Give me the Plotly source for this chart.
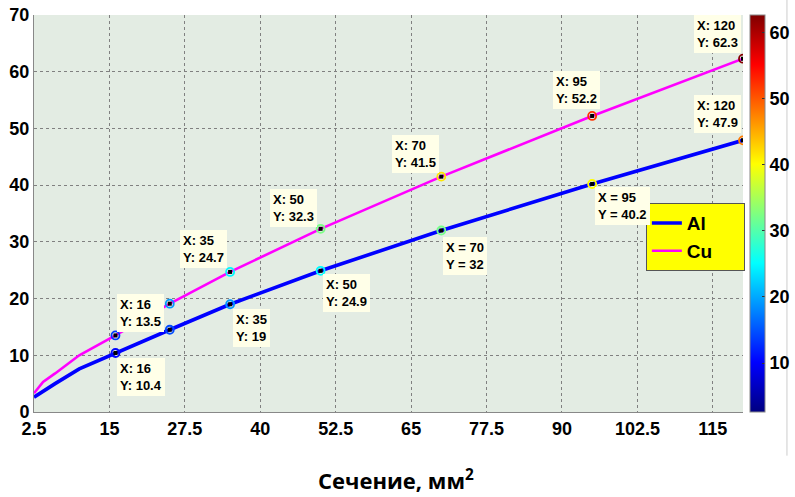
import plotly.graph_objects as go

# ---- data ----
sections = [2.5, 4, 6, 10, 16, 25, 35, 50, 70, 95, 120]
al_values = [2.6, 3.7, 5.0, 7.6, 10.4, 14.5, 19.0, 24.9, 32.0, 40.2, 47.9]
cu_values = [3.3, 5.3, 6.8, 10.0, 13.5, 19.1, 24.7, 32.3, 41.5, 52.2, 62.3]

tip_sections = [16, 25, 35, 50, 70, 95, 120]
x_ticks = [2.5, 15, 27.5, 40, 52.5, 65, 77.5, 90, 102.5, 115]
y_ticks = [0, 10, 20, 30, 40, 50, 60, 70]
cbar_ticks = [10, 20, 30, 40, 50, 60]

series_names = ["Al", "Cu"]
x_title = "Сечение, мм"

# labelled data tips: (series, section, separator)
tip_labels = [
    ("Cu", 16, ":"), ("Cu", 35, ":"), ("Cu", 50, ":"), ("Cu", 70, ":"),
    ("Cu", 95, ":"), ("Cu", 120, ":"),
    ("Al", 16, ":"), ("Al", 35, ":"), ("Al", 50, ":"), ("Al", 70, " ="),
    ("Al", 95, " ="), ("Al", 120, ":"),
]

# ---- style / placement of data-tip boxes (xanchor, yanchor, xshift, yshift) ----
tip_place = {
    ("Cu", 120): ("right", "bottom", -2, 6),
    ("Cu", 95): ("right", "bottom", 8, 7),
    ("Cu", 70): ("right", "bottom", -2, 4),
    ("Cu", 50): ("right", "bottom", -4, 2),
    ("Cu", 35): ("right", "bottom", -3, 4),
    ("Cu", 16): ("left", "bottom", 2, 3),
    ("Al", 120): ("right", "bottom", -2, 7),
    ("Al", 95): ("left", "top", 3, -3),
    ("Al", 70): ("left", "top", 2, -6),
    ("Al", 50): ("left", "top", 2, -3),
    ("Al", 35): ("left", "top", 3, -5),
    ("Al", 16): ("left", "top", 2, -5),
}

series = {"Al": al_values, "Cu": cu_values}
colors = {"Al": "#0000FF", "Cu": "#FF00FF"}
widths = {"Al": 3.6, "Cu": 2.6}

jet = [[0.0, "rgb(0,0,128)"], [0.125, "rgb(0,0,255)"], [0.375, "rgb(0,255,255)"],
       [0.625, "rgb(255,255,0)"], [0.875, "rgb(255,0,0)"], [1.0, "rgb(128,0,0)"]]

BASE_FONT = "Liberation Sans, Arial, sans-serif"
PAD = "\u00a0" * 5

fig = go.Figure()

for name in series_names:
    fig.add_trace(go.Scatter(
        x=sections, y=series[name], mode="lines", name=name + PAD,
        line=dict(color=colors[name], width=widths[name]),
    ))

# data tip markers coloured by value
tx, ty = [], []
for name in series_names:
    for s in tip_sections:
        tx.append(s)
        ty.append(series[name][sections.index(s)])

fig.add_trace(go.Scatter(
    x=tx, y=ty, mode="markers", showlegend=False, hoverinfo="skip",
    marker=dict(
        symbol="circle-open", size=8, color=ty, colorscale=jet,
        cmin=2.6, cmax=62.6, line=dict(width=1.8),
        showscale=True,
        colorbar=dict(
            x=1.01, xanchor="left", y=0.5, yanchor="middle", len=1.0,
            thickness=15, outlinewidth=1, outlinecolor="#888888",
            tickvals=cbar_ticks, ticks="inside", ticklen=3, tickcolor="#333333",
            tickfont=dict(family=BASE_FONT, size=18, color="black", weight="bold"),
            xpad=0, ypad=0,
        ),
    ),
))
fig.add_trace(go.Scatter(
    x=tx, y=ty, mode="markers", showlegend=False, hoverinfo="skip",
    marker=dict(symbol="square", size=4, color="black"),
))

for name, s, sep in tip_labels:
    v = series[name][sections.index(s)]
    xa, ya, xs, ys = tip_place[(name, s)]
    vtxt = f"{v:g}"
    fig.add_annotation(
        x=s, y=v, xref="x", yref="y", showarrow=False,
        text=f"X{sep} {s:g}<br>Y{sep} {vtxt}", align="left",
        xanchor=xa, yanchor=ya, xshift=xs, yshift=ys,
        bgcolor="#FFFFE8", borderpad=3, borderwidth=0,
        font=dict(family=BASE_FONT, size=13, color="black", weight="bold"),
    )

fig.add_annotation(
    xref="paper", yref="paper", x=0.51, y=-0.125, xanchor="center", yanchor="top",
    showarrow=False,
    text=x_title + "<sup>2</sup>",
    font=dict(family="Open Sans, Noto Sans, sans-serif", size=22, color="black", weight="bold"),
)

fig.add_shape(type="line", xref="paper", yref="paper", x0=1.062, x1=1.062,
              y0=-0.11, y1=1.04, line=dict(color="#cccccc", width=1))

axis_common = dict(
    showgrid=True, gridcolor="#808080", griddash="dot", gridwidth=1,
    showline=True, linecolor="#888888", linewidth=1, zeroline=False,
    tickfont=dict(family=BASE_FONT, size=18, color="black", weight="bold"),
    ticks="", mirror=False, automargin=False,
)

fig.update_xaxes(range=[2.5, 120], tickvals=x_ticks, ticktext=[f"{t:g}" for t in x_ticks],
                 **axis_common)
fig.update_yaxes(range=[0, 70], tickvals=y_ticks, **axis_common)

fig.update_layout(
    width=795, height=497,
    margin=dict(l=34, r=52, t=15, b=85, autoexpand=False),
    paper_bgcolor="white", plot_bgcolor="#E3ECE3",
    showlegend=True,
    legend=dict(
        x=0.863, y=0.526, xanchor="left", yanchor="top",
        bgcolor="#FFFF00", bordercolor="#555555", borderwidth=1,
        font=dict(family=BASE_FONT, size=19, color="black", weight="bold"),
        itemwidth=30, tracegroupgap=0,
    ),
    font=dict(family=BASE_FONT),
)

fig.write_html(
    "out.html",
    config={"displayModeBar": False},
    post_script="document.body.style.margin='0';document.body.style.overflow='hidden';",
)
